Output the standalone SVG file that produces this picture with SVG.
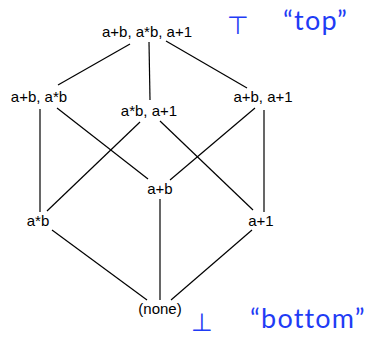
<svg xmlns="http://www.w3.org/2000/svg" width="370" height="338" viewBox="0 0 370 338">
<style>
.n{font-family:"Liberation Sans",Arial,sans-serif;font-size:15px;fill:#000;text-anchor:middle}
.c line{stroke:#000;stroke-width:1.2}
.b{font-family:Lato,"Open Sans",sans-serif;font-size:27px;letter-spacing:1.2px;fill:#1f3cf5}
.s{font-family:"DejaVu Sans",sans-serif;font-size:25px;fill:#1f3cf5;text-anchor:middle}
</style>
<rect width="370" height="338" fill="#fff"/>
<g id="connectors" class="c">
<line x1="130" y1="44" x2="58" y2="85"/>
<line x1="149" y1="42" x2="150" y2="100"/>
<line x1="166" y1="41" x2="247" y2="88"/>
<line x1="40" y1="109" x2="40" y2="212"/>
<line x1="57" y1="108" x2="148" y2="179"/>
<line x1="140" y1="122" x2="47" y2="211"/>
<line x1="160" y1="121" x2="253" y2="210"/>
<line x1="255" y1="108" x2="170" y2="180"/>
<line x1="264" y1="110" x2="264" y2="212"/>
<line x1="52" y1="230" x2="147" y2="300"/>
<line x1="160" y1="199" x2="160" y2="300"/>
<line x1="252" y1="230" x2="171" y2="300"/>
</g>
<g id="top"><text class="n" x="147" y="37">a+b, a*b, a+1</text></g>
<g id="ab_amb"><text class="n" x="39" y="102">a+b, a*b</text></g>
<g id="amb_a1"><text class="n" x="149" y="116">a*b, a+1</text></g>
<g id="ab_a1"><text class="n" x="263" y="102">a+b, a+1</text></g>
<g id="ab"><text class="n" x="160" y="194">a+b</text></g>
<g id="amb"><text class="n" x="38" y="226">a*b</text></g>
<g id="a1"><text class="n" x="261" y="226">a+1</text></g>
<g id="none"><text class="n" x="160" y="314">(none)</text></g>
<g id="top-label"><text class="s" x="238" y="34">⊤</text><text class="b" x="283" y="30">“top”</text></g>
<g id="bottom-label"><text class="s" x="202" y="331">⊥</text><text class="b" x="250" y="328">“bottom”</text></g>
</svg>
